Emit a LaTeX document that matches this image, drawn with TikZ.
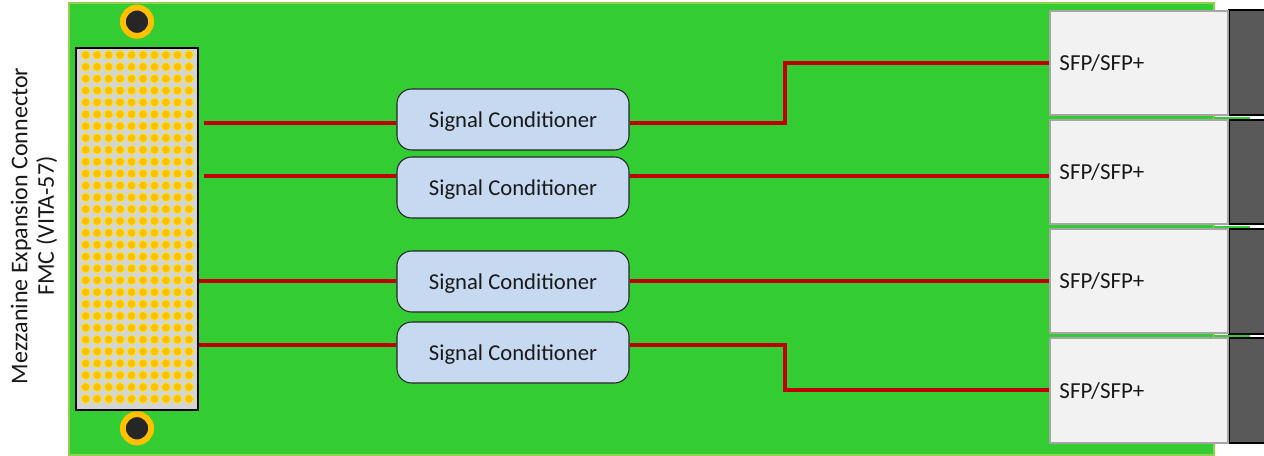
\documentclass[tikz,border=0pt]{standalone}
\usepackage{fontspec}
\setmainfont{Carlito}
\definecolor{board}{HTML}{33CC33}
\definecolor{boardedge}{HTML}{92D050}
\definecolor{wire}{HTML}{C00000}
\definecolor{pad}{HTML}{FFC000}
\definecolor{condfill}{HTML}{C6D9F1}
\newcommand{\condtext}{\raisebox{-6.2pt}[0pt][0pt]{Signal Conditioner}}
\tikzset{
  x=0.75pt,y=-0.75pt,
  wire/.style={draw=wire,line width=2.4pt},
  condbox/.style={draw=black!85,line width=0.8pt,fill=condfill,rounded corners=11pt,minimum width=174pt,minimum height=45.75pt,inner sep=0pt,font=\fontsize{17}{20}\selectfont,text=black!90},
  sfpbox/.style={draw=black!35,line width=1.2pt,fill=black!5,minimum width=133.5pt,minimum height=78pt,inner sep=0pt},
  sfplabel/.style={inner sep=0pt,font=\fontsize{17.2}{20}\selectfont,text=black!90},
  cage/.style={draw=black,line width=1.5pt,fill=black!65},
  pin/.style={circle,draw=yellow,line width=0.4pt,fill=pad,minimum size=6.6pt,inner sep=0pt},
  hole/.style={circle,draw=pad,line width=4.4pt,fill=black!85,minimum size=21.2pt,inner sep=0pt},
  vlabel/.style={rotate=90,align=center,inner sep=0pt,font=\fontsize{18}{20}\selectfont,text=black!90}
}
\begin{document}
\begin{tikzpicture}
\useasboundingbox (0,0) rectangle (1264,456);
\fill[white] (0,0) rectangle (1264,456);
\draw[draw=boardedge,fill=board,line width=1.2pt] (69,3) rectangle (1214,455);
% connector
\node[draw=black,line width=1.6pt,fill=black!17,minimum width=91.3pt,minimum height=271.5pt,inner sep=0pt] (fmc) at (137.2,228.7) {};
\foreach \c in {0,...,9}{
  \foreach \r in {0,...,29}{
    \node[pin] (p\c-\r) at ({85.7+\c*11.47},{55+\r*11.86}) {};
  }
}
\node[hole] (holetop) at (137,21.7) {};
\node[hole] (holebot) at (137,428.3) {};
\node[vlabel] (fmclabel) at (34,226) {Mezzanine Expansion Connector\\FMC (VITA-57)};
% SFP cages
\foreach \n/\ya/\yb in {a/10.5/115.5,b/120/224.5,c/229/333.5,d/338/443}{
  \draw[cage] (1229,\ya) rectangle (1266,\yb);
}
\fill[board] (1214,117) rectangle (1250,119);
\fill[board] (1214,226) rectangle (1250,228);
\fill[board] (1214,335) rectangle (1250,337);
\node[sfpbox,minimum height=78pt] (sfpa) at (1139,63) {};
\node[sfpbox,minimum height=78pt] (sfpb) at (1139,172) {};
\node[sfpbox,minimum height=78pt] (sfpc) at (1139,281) {};
\node[sfpbox,minimum height=78.75pt] (sfpd) at (1139,390.5) {};
\foreach \n in {a,b,c,d}{
  \node[sfplabel,anchor=west] (t\n) at ([xshift=7.5pt,yshift=-0.2pt]sfp\n.west) {SFP/SFP+};
}
% conditioners
\node[condbox] (c1) at (513,119.5) {\condtext};
\node[condbox] (c2) at (513,187.5) {\condtext};
\node[condbox] (c3) at (513,281.5) {\condtext};
\node[condbox] (c4) at (513,352.5) {\condtext};
% wire ends at the connector
\coordinate (w1) at (204,123);
\coordinate (w2) at (204,176);
\coordinate (w3) at (199,281);
\coordinate (w4) at (199,345);
\coordinate (e1) at (785,63);
\coordinate (e4) at (785,390);
% wires
\draw[wire] (w1) -- (c1.west |- w1);
\draw[wire] (w2) -- (c2.west |- w2);
\draw[wire] (w3) -- (c3.west |- w3);
\draw[wire] (w4) -- (c4.west |- w4);
\draw[wire] (c1.east |- w1) -| (e1) -- (sfpa.west |- e1);
\draw[wire] (c2.east |- w2) -- (sfpb.west |- w2);
\draw[wire] (c3.east |- w3) -- (sfpc.west |- w3);
\draw[wire] (c4.east |- w4) -| (e4) -- (sfpd.west |- e4);
\end{tikzpicture}
\end{document}
